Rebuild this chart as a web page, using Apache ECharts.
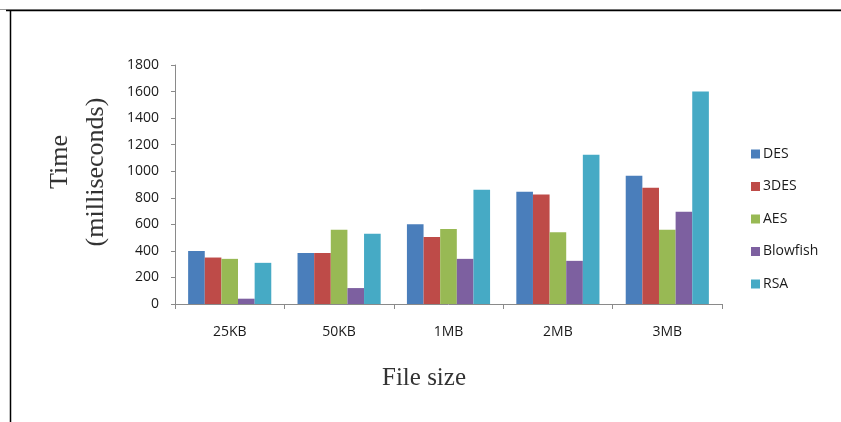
<!DOCTYPE html>
<html>
<head>
<meta charset="utf-8">
<script src="https://cdn.jsdelivr.net/npm/echarts@6/dist/echarts.min.js"></script>
<style>
  html, body { margin: 0; padding: 0; background: #fff; }
  #chart { width: 841px; height: 422px; }
</style>
</head>
<body>
<div id="chart"></div>
<script>
// File sizes on the x axis
const categories = ['25KB', '50KB', '1MB', '2MB', '3MB'];

// Encryption time in milliseconds per algorithm
const desTimes       = [400, 385, 600, 845, 965];
const tripleDesTimes = [350, 385, 505, 825, 875];
const aesTimes       = [340, 560, 565, 540, 560];
const blowfishTimes  = [40, 120, 340, 325, 695];
const rsaTimes       = [310, 530, 860, 1125, 1600];

const seriesNames = ['DES', '3DES', 'AES', 'Blowfish', 'RSA'];
const seriesData = [desTimes, tripleDesTimes, aesTimes, blowfishTimes, rsaTimes];
const seriesColors = ['#4A7EBB', '#BE4B48', '#98B954', '#7D60A0', '#46AAC5'];

const tickFont = '"Open Sans", "Liberation Sans", sans-serif';
const titleFont = '"Liberation Serif", "DejaVu Serif", serif';

const chart = echarts.init(document.getElementById('chart'), null, { renderer: 'canvas' });

chart.setOption({
  animation: false,
  backgroundColor: '#fff',
  grid: { left: 175, right: 119, top: 65, bottom: 118, containLabel: false },
  legend: {
    orient: 'vertical',
    left: 746,
    top: 142,
    itemWidth: 9,
    itemHeight: 9,
    itemGap: 18.5,
    icon: 'rect',
    textStyle: { fontFamily: tickFont, fontSize: 14, color: '#1a1a1a', lineHeight: 14, padding: [0, 0, 0, -2] },
    data: seriesNames
  },
  xAxis: {
    type: 'category',
    data: categories,
    axisLine: { lineStyle: { color: '#8a8a8a', width: 1 } },
    axisTick: { show: true, alignWithLabel: false, length: 5, lineStyle: { color: '#8a8a8a' } },
    axisLabel: { fontFamily: tickFont, fontSize: 14, color: '#1a1a1a', margin: 21 }
  },
  yAxis: {
    type: 'value',
    min: 0,
    max: 1800,
    interval: 200,
    splitLine: { show: false },
    axisLine: { show: true, lineStyle: { color: '#8a8a8a', width: 1 } },
    axisTick: { show: true, length: 4, lineStyle: { color: '#8a8a8a' } },
    axisLabel: { fontFamily: tickFont, fontSize: 14, color: '#1a1a1a', margin: 16, formatter: v => String(v) }
  },
  series: seriesNames.map((name, i) => ({
    name: name,
    type: 'bar',
    data: seriesData[i],
    barGap: '0%',
    barCategoryGap: '24%',
    itemStyle: { color: seriesColors[i] }
  })),
  graphic: [
    // page frame lines
    { type: 'line', shape: { x1: 0, y1: 9.5, x2: 841, y2: 9.5 }, style: { stroke: '#999', lineWidth: 1 } },
    { type: 'line', shape: { x1: 6, y1: 10.5, x2: 841, y2: 10.5 }, style: { stroke: '#000', lineWidth: 1.5 } },
    { type: 'line', shape: { x1: 10.5, y1: 10, x2: 10.5, y2: 422 }, style: { stroke: '#000', lineWidth: 1.5 } },
    // axis titles
    {
      type: 'text', x: 60, y: 162, rotation: Math.PI / 2,
      style: { text: 'Time', font: '26px ' + titleFont, fill: '#333', textAlign: 'center', textVerticalAlign: 'middle' }
    },
    {
      type: 'text', x: 96, y: 172, rotation: Math.PI / 2,
      style: { text: '(milliseconds)', font: '26px ' + titleFont, fill: '#333', textAlign: 'center', textVerticalAlign: 'middle' }
    },
    {
      type: 'text', x: 424, y: 378,
      style: { text: 'File size', font: '25px ' + titleFont, fill: '#333', textAlign: 'center', textVerticalAlign: 'middle' }
    }
  ]
});
</script>
</body>
</html>
